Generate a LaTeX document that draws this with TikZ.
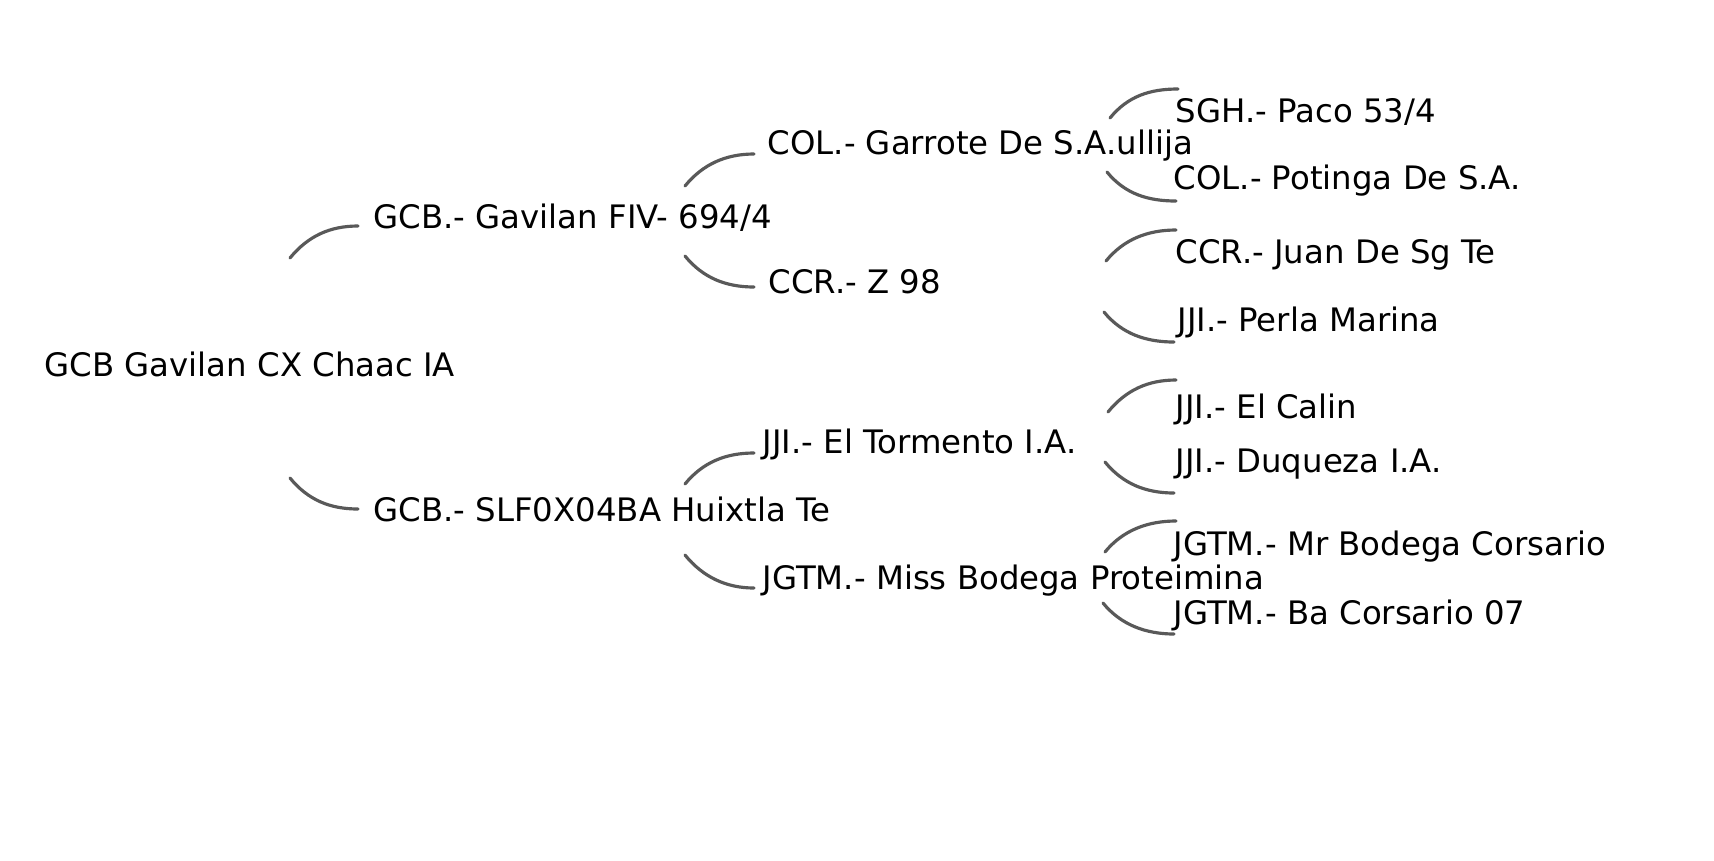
\documentclass[tikz,border=0pt]{standalone}
\usepackage{fontspec}
\setmainfont{DejaVu Sans}
\begin{document}
\begin{tikzpicture}[x=0.01cm,y=-0.01cm,
  pnode/.style={anchor=west,inner sep=0pt,text height=0.73em,text depth=0pt,
    font=\fontsize{9.2pt}{11pt}\selectfont},
  link/.style={draw=black!65,line width=0.9pt,line cap=round},
]
\useasboundingbox[fill=white] (0,0) rectangle (1714,860);
% nodes
\node[pnode] (root) at (44,364) {GCB Gavilan CX Chaac IA};
\node[pnode] (g1a) at (373,216) {GCB.- Gavilan FIV- 694/4};
\node[pnode] (g1b) at (373,509) {GCB.- SLF0X04BA Huixtla Te};
\node[pnode] (g2a) at (767,142) {COL.- Garrote De S.A.ullija};
\node[pnode] (g2b) at (768,281) {CCR.- Z 98};
\node[pnode] (g2c) at (762,441) {JJI.- El Tormento I.A.};
\node[pnode] (g2d) at (762,577) {JGTM.- Miss Bodega Proteimina};
\node[pnode] (g3a) at (1175,110) {SGH.- Paco 53/4};
\node[pnode] (g3b) at (1173,177) {COL.- Potinga De S.A.};
\node[pnode] (g3c) at (1175,251) {CCR.- Juan De Sg Te};
\node[pnode] (g3d) at (1177,319) {JJI.- Perla Marina};
\node[pnode] (g3e) at (1175,406) {JJI.- El Calin};
\node[pnode] (g3f) at (1175,460) {JJI.- Duqueza I.A.};
\node[pnode] (g3g) at (1173,543) {JGTM.- Mr Bodega Corsario};
\node[pnode] (g3h) at (1173,612) {JGTM.- Ba Corsario 07};
% connector end points
\coordinate (s1a) at (290,258); \coordinate (e1a) at (358,226);
\coordinate (s1b) at (290,478); \coordinate (e1b) at (358,509);
\coordinate (s2a) at (685,186); \coordinate (e2a) at (754,154);
\coordinate (s2b) at (685,256); \coordinate (e2b) at (754,287);
\coordinate (s2c) at (685,484); \coordinate (e2c) at (754,453);
\coordinate (s2d) at (685,555); \coordinate (e2d) at (754,588);
\coordinate (s3a) at (1110,118); \coordinate (e3a) at (1178,89);
\coordinate (s3b) at (1107,172); \coordinate (e3b) at (1176,201);
\coordinate (s3c) at (1106,261); \coordinate (e3c) at (1176,230);
\coordinate (s3d) at (1104,312); \coordinate (e3d) at (1174,342);
\coordinate (s3e) at (1108,412); \coordinate (e3e) at (1176,380);
\coordinate (s3f) at (1105,462); \coordinate (e3f) at (1174,493);
\coordinate (s3g) at (1105,552); \coordinate (e3g) at (1176,521);
\coordinate (s3h) at (1103,603); \coordinate (e3h) at (1174,634);
% upward branches
\foreach \k in {1a,2a,2c,3a,3c,3e,3g}
  \draw[link] (s\k) .. controls +(18,-22) and +(-28,0) .. (e\k);
% downward branches
\foreach \k in {1b,2b,2d,3b,3d,3f,3h}
  \draw[link] (s\k) .. controls +(18,22) and +(-28,0) .. (e\k);
\end{tikzpicture}
\end{document}
